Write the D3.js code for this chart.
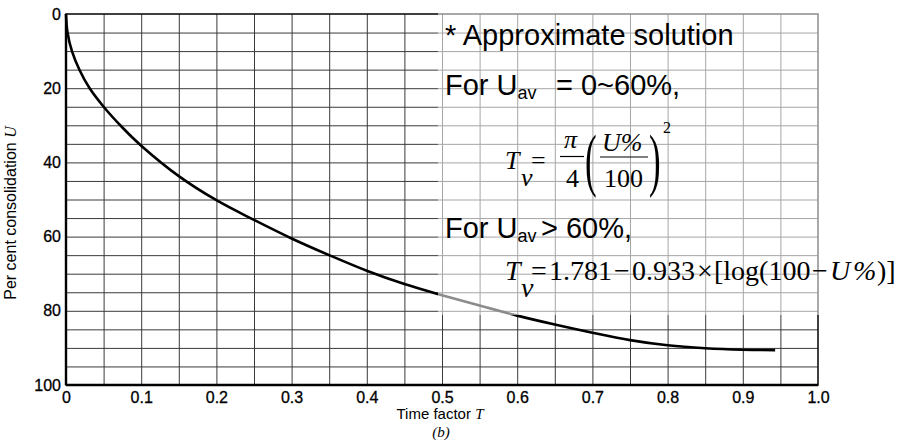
<!DOCTYPE html>
<html>
<head>
<meta charset="utf-8">
<script src="https://cdn.jsdelivr.net/npm/d3@7"></script>
<style>
  body { margin: 0; background: #fff; }
  svg { display: block; }
</style>
</head>
<body>
<div id="chart"></div>
<script>
// values (time factor T vs per cent consolidation U)
var timeFactor = [0, 0.002, 0.008, 0.018, 0.031, 0.05, 0.075, 0.1, 0.15, 0.2, 0.25, 0.3, 0.35, 0.4, 0.45, 0.5, 0.55, 0.6, 0.65, 0.7, 0.75, 0.8, 0.85, 0.9, 0.943];
var consolidation = [0, 5, 10.1, 15.1, 19.9, 25, 30.6, 35.5, 43.7, 50.2, 55.5, 60.5, 65, 69.2, 72.8, 75.8, 78.6, 81.3, 83.7, 85.9, 87.9, 89.3, 90.1, 90.5, 90.6];
var xTickLabels = [0, 0.1, 0.2, 0.3, 0.4, 0.5, 0.6, 0.7, 0.8, 0.9, 1.0];
var yTickLabels = [0, 20, 40, 60, 80, 100];
var xGridValues = d3.range(1, 20).map(function(i) { return i * 0.05; });
var yGridValues = d3.range(1, 20).map(function(i) { return i * 5; });

function init()
{
    var w = 903;
    var h = 443;
    var left = 66, right = 818, top = 14, bottom = 385;

    var svg = d3.select("#chart")
                .append("svg")
                .attr("width", w)
                .attr("height", h);

    var xScale = d3.scaleLinear().domain([0, 1]).range([left, right]);
    var yScale = d3.scaleLinear().domain([0, 100]).range([top, bottom]);

    // grid lines
    svg.append("g")
        .attr("transform", "translate(0," + bottom + ")")
        .call(d3.axisBottom(xScale).tickValues(xGridValues).tickSize(-(bottom - top)).tickFormat(""))
        .call(function(g) { g.select(".domain").remove(); })
        .selectAll("line").attr("stroke", "#3a3a3a").attr("stroke-width", 1);

    svg.append("g")
        .attr("transform", "translate(" + left + ",0)")
        .call(d3.axisLeft(yScale).tickValues(yGridValues).tickSize(-(right - left)).tickFormat(""))
        .call(function(g) { g.select(".domain").remove(); })
        .selectAll("line").attr("stroke", "#3a3a3a").attr("stroke-width", 1);

    // the curve
    var line = d3.line()
        .x(function(d, i) { return xScale(timeFactor[i]); })
        .y(function(d) { return yScale(d); })
        .curve(d3.curveCatmullRom.alpha(0.5));

    svg.append("path")
        .datum(consolidation)
        .attr("d", line)
        .attr("fill", "none")
        .attr("stroke", "#000")
        .attr("stroke-width", 2.6);

    // frame
    svg.append("rect")
        .attr("x", left).attr("y", top)
        .attr("width", right - left).attr("height", bottom - top)
        .attr("fill", "none").attr("stroke", "#111").attr("stroke-width", 1.6);
    svg.append("line").attr("x1", left).attr("x2", left).attr("y1", top).attr("y2", bottom)
        .attr("stroke", "#000").attr("stroke-width", 2.4);
    svg.append("line").attr("x1", left).attr("x2", right).attr("y1", bottom).attr("y2", bottom)
        .attr("stroke", "#000").attr("stroke-width", 2.4);

    // faded area behind the pasted note
    svg.append("rect")
        .attr("x", 438).attr("y", 10)
        .attr("width", 385).attr("height", 305)
        .attr("fill", "#fff").attr("opacity", 0.55);

    // tick labels
    var xAxis = svg.append("g")
        .attr("transform", "translate(0," + bottom + ")")
        .call(d3.axisBottom(xScale).tickValues(xTickLabels).tickSize(0).tickPadding(7)
              .tickFormat(function(d) { return d === 0 ? "0" : d3.format(".1f")(d); }));
    xAxis.select(".domain").remove();
    xAxis.selectAll("text")
        .attr("font-family", "Liberation Sans, Arial, sans-serif")
        .attr("font-size", 16).attr("fill", "#000")
        .attr("stroke", "#000").attr("stroke-width", 0.3);

    var yAxis = svg.append("g")
        .attr("transform", "translate(" + (left - 5) + ",0)")
        .call(d3.axisLeft(yScale).tickValues(yTickLabels).tickSize(0).tickPadding(0));
    yAxis.select(".domain").remove();
    yAxis.selectAll("text")
        .attr("font-family", "Liberation Sans, Arial, sans-serif")
        .attr("font-size", 16).attr("fill", "#000")
        .attr("stroke", "#000").attr("stroke-width", 0.3);

    // axis titles
    var yTitle = svg.append("text")
        .attr("transform", "translate(16,213) rotate(-90)")
        .attr("text-anchor", "middle")
        .attr("font-family", "Liberation Sans, Arial, sans-serif")
        .attr("font-size", 16);
    yTitle.append("tspan").text("Per cent consolidation ");
    yTitle.append("tspan").attr("font-family", "Liberation Serif, serif").attr("font-style", "italic").text("U");

    var xTitle = svg.append("text")
        .attr("x", 440).attr("y", 419)
        .attr("text-anchor", "middle")
        .attr("font-family", "Liberation Sans, Arial, sans-serif")
        .attr("font-size", 15);
    xTitle.append("tspan").text("Time factor ");
    xTitle.append("tspan").attr("font-family", "Liberation Serif, serif").attr("font-style", "italic").text("T");

    svg.append("text")
        .attr("x", 441).attr("y", 437)
        .attr("text-anchor", "middle")
        .attr("font-family", "Liberation Serif, serif")
        .attr("font-style", "italic")
        .attr("font-size", 15)
        .text("(b)");

    // note
    var sans = "Liberation Sans, Arial, sans-serif";
    var serif = "Liberation Serif, Times New Roman, serif";

    svg.append("text").attr("x", 445).attr("y", 45)
        .attr("font-family", sans).attr("font-size", 29)
        .text("* Approximate solution");

    var n1 = svg.append("text").attr("x", 445).attr("y", 95)
        .attr("font-family", sans).attr("font-size", 29);
    n1.append("tspan").text("For U");
    n1.append("tspan").attr("font-size", 18).attr("dy", 4).text("av");
    n1.append("tspan").attr("x", 556).attr("dy", -4).text("= 0~60%,");

    var n2 = svg.append("text").attr("x", 445).attr("y", 238)
        .attr("font-family", sans).attr("font-size", 29);
    n2.append("tspan").text("For U");
    n2.append("tspan").attr("font-size", 18).attr("dy", 4).text("av");
    n2.append("tspan").attr("x", 541).attr("dy", -4).text("> 60%,");

    // formula 1
    var f1 = svg.append("g").attr("font-family", serif).attr("font-size", 26).attr("fill", "#000");
    f1.append("text").attr("x", 505).attr("y", 169).attr("font-style", "italic").text("T");
    f1.append("text").attr("x", 521).attr("y", 186).attr("font-style", "italic").text("v");
    f1.append("text").attr("x", 531).attr("y", 169).text("=");
    f1.append("text").attr("x", 564).attr("y", 148).attr("font-style", "italic").text("π");
    f1.append("line").attr("x1", 560).attr("x2", 584).attr("y1", 156.5).attr("y2", 156.5)
        .attr("stroke", "#000").attr("stroke-width", 1.2);
    f1.append("text").attr("x", 566).attr("y", 187).text("4");
    f1.append("text").attr("transform", "translate(585,183) scale(0.5,1)").attr("font-size", 70).text("(");
    f1.append("text").attr("x", 602).attr("y", 151).attr("font-style", "italic").text("U%");
    f1.append("line").attr("x1", 600).attr("x2", 648).attr("y1", 157).attr("y2", 157)
        .attr("stroke", "#000").attr("stroke-width", 1.2);
    f1.append("text").attr("x", 604).attr("y", 187).text("100");
    f1.append("text").attr("transform", "translate(649,183) scale(0.5,1)").attr("font-size", 70).text(")");
    f1.append("text").attr("x", 663).attr("y", 133).attr("font-size", 16).text("2");

    // formula 2
    var f2 = svg.append("g").attr("font-family", serif).attr("font-size", 28).attr("fill", "#000");
    f2.append("text").attr("x", 505).attr("y", 280).attr("font-style", "italic").text("T");
    f2.append("text").attr("x", 521).attr("y", 297).attr("font-style", "italic").text("v");
    f2.append("text").attr("x", 531).attr("y", 280).text("=");
    f2.append("text").attr("x", 549).attr("y", 280).text("1.781");
    f2.append("text").attr("x", 614).attr("y", 280).text("−");
    f2.append("text").attr("x", 632).attr("y", 280).text("0.933");
    f2.append("text").attr("x", 697).attr("y", 280).text("×");
    f2.append("text").attr("x", 714).attr("y", 280).text("[log(100");
    f2.append("text").attr("x", 812).attr("y", 280).text("−");
    f2.append("text").attr("x", 830).attr("y", 280).attr("font-style", "italic").text("U");
    f2.append("text").attr("x", 853).attr("y", 280).attr("font-style", "italic").text("%");
    f2.append("text").attr("x", 877).attr("y", 280).text(")]");
}
window.onload = init;
</script>
</body>
</html>
